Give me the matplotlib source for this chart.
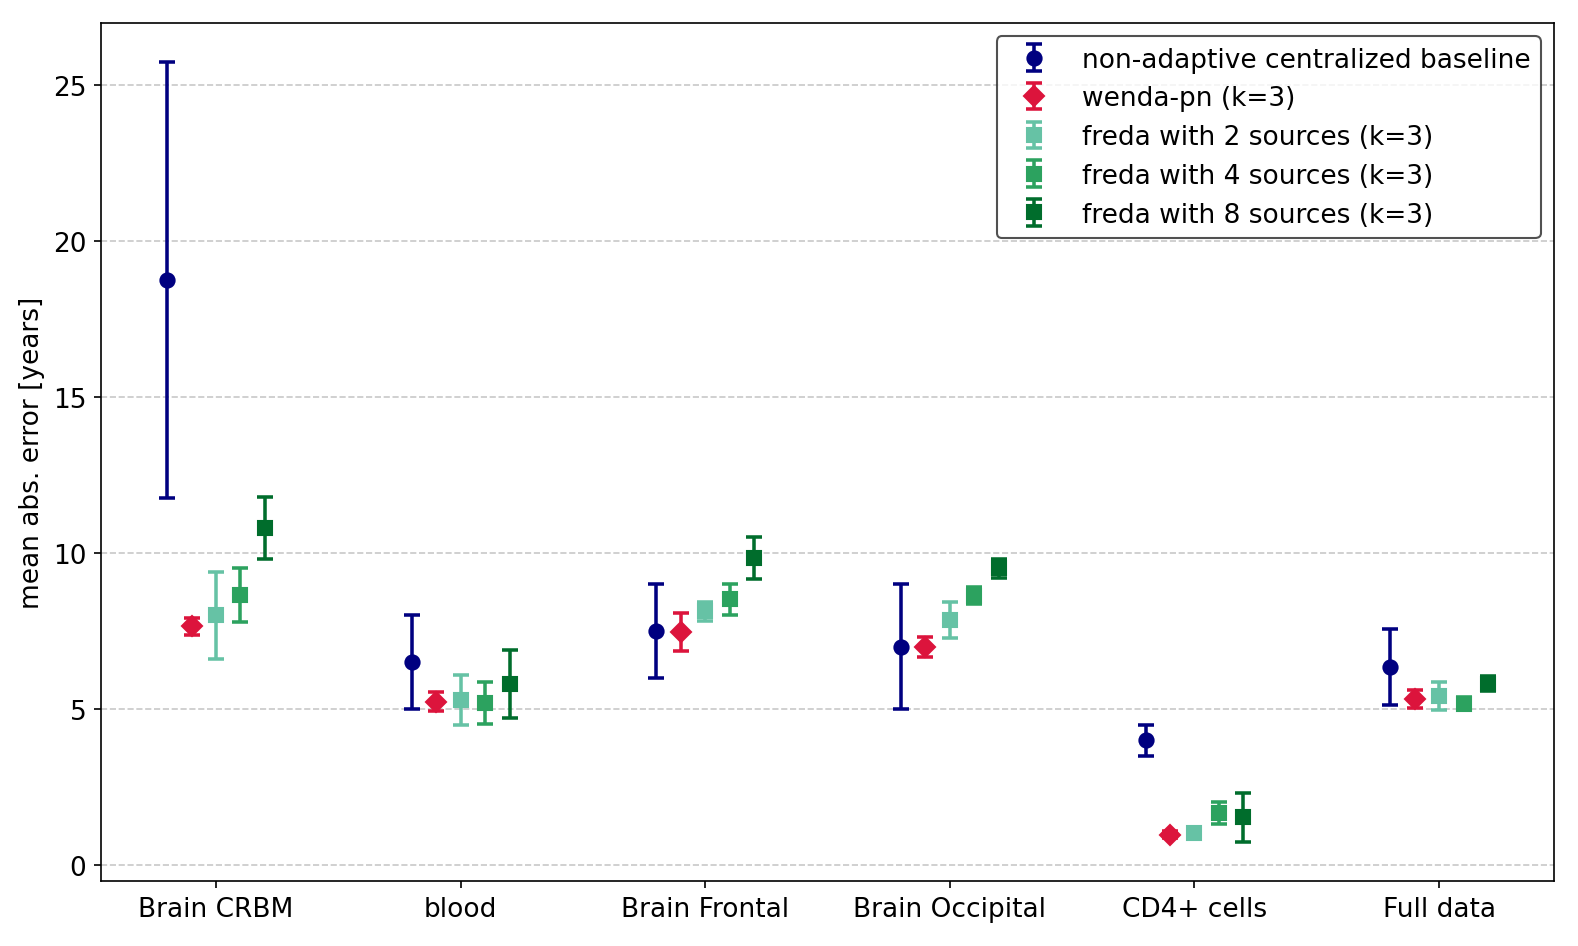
import numpy as np
import matplotlib
matplotlib.use('Agg')
import matplotlib.pyplot as plt

tissues = ['Brain CRBM', 'blood', 'Brain Frontal', 'Brain Occipital', 'CD4+ cells', 'Full data']

labels = ['non-adaptive centralized baseline', 'wenda-pn (k=3)',
          'freda with 2 sources (k=3)', 'freda with 4 sources (k=3)',
          'freda with 8 sources (k=3)']

baseline_mean = [18.75, 6.5, 7.5, 7.0, 4.0, 6.35]
baseline_err = [7.0, 1.5, 1.5, 2.0, 0.5, 1.22]

wenda_mean = [7.65, 5.23, 7.47, 6.98, 0.97, 5.32]
wenda_err = [0.28, 0.3, 0.62, 0.33, 0.1, 0.3]

freda2_mean = [8.0, 5.3, 8.13, 7.86, 1.02, 5.42]
freda2_err = [1.4, 0.8, 0.3, 0.58, 0.2, 0.45]

freda4_mean = [8.65, 5.2, 8.52, 8.63, 1.66, 5.17]
freda4_err = [0.86, 0.67, 0.5, 0.28, 0.34, 0.2]

freda8_mean = [10.8, 5.8, 9.85, 9.51, 1.52, 5.81]
freda8_err = [1.0, 1.1, 0.68, 0.3, 0.79, 0.24]

means = [baseline_mean, wenda_mean, freda2_mean, freda4_mean, freda8_mean]
errs = [baseline_err, wenda_err, freda2_err, freda4_err, freda8_err]
colors = ['navy', 'crimson', '#66c2a5', '#2ca25f', '#006d2c']
markers = ['o', 'D', 's', 's', 's']
offsets = [-0.2, -0.1, 0.0, 0.1, 0.2]

plt.rcParams['font.size'] = 12.7

fig = plt.figure(figsize=(10.52, 6.313), dpi=150)
ax = fig.add_axes([0.064, 0.0686, 0.9208, 0.9061])

x = np.arange(len(tissues))
for m, e, c, mk, off, lab in zip(means, errs, colors, markers, offsets, labels):
    ax.errorbar(x + off, m, yerr=e, fmt=mk, color=c, capsize=4,
                elinewidth=1.7, capthick=1.7, markersize=6.8, label=lab)

ax.set_xticks(x)
ax.set_xticklabels(tissues)
ax.set_ylabel('mean abs. error [years]')
ax.yaxis.grid(True, linestyle='--', color='#bbbbbb', alpha=0.8)
ax.set_axisbelow(True)
leg = ax.legend(loc='upper right', edgecolor='0.15', fancybox=True,
                labelspacing=0.48)
leg.get_frame().set_linewidth(1.0)

fig.savefig('out.png', dpi=150)
